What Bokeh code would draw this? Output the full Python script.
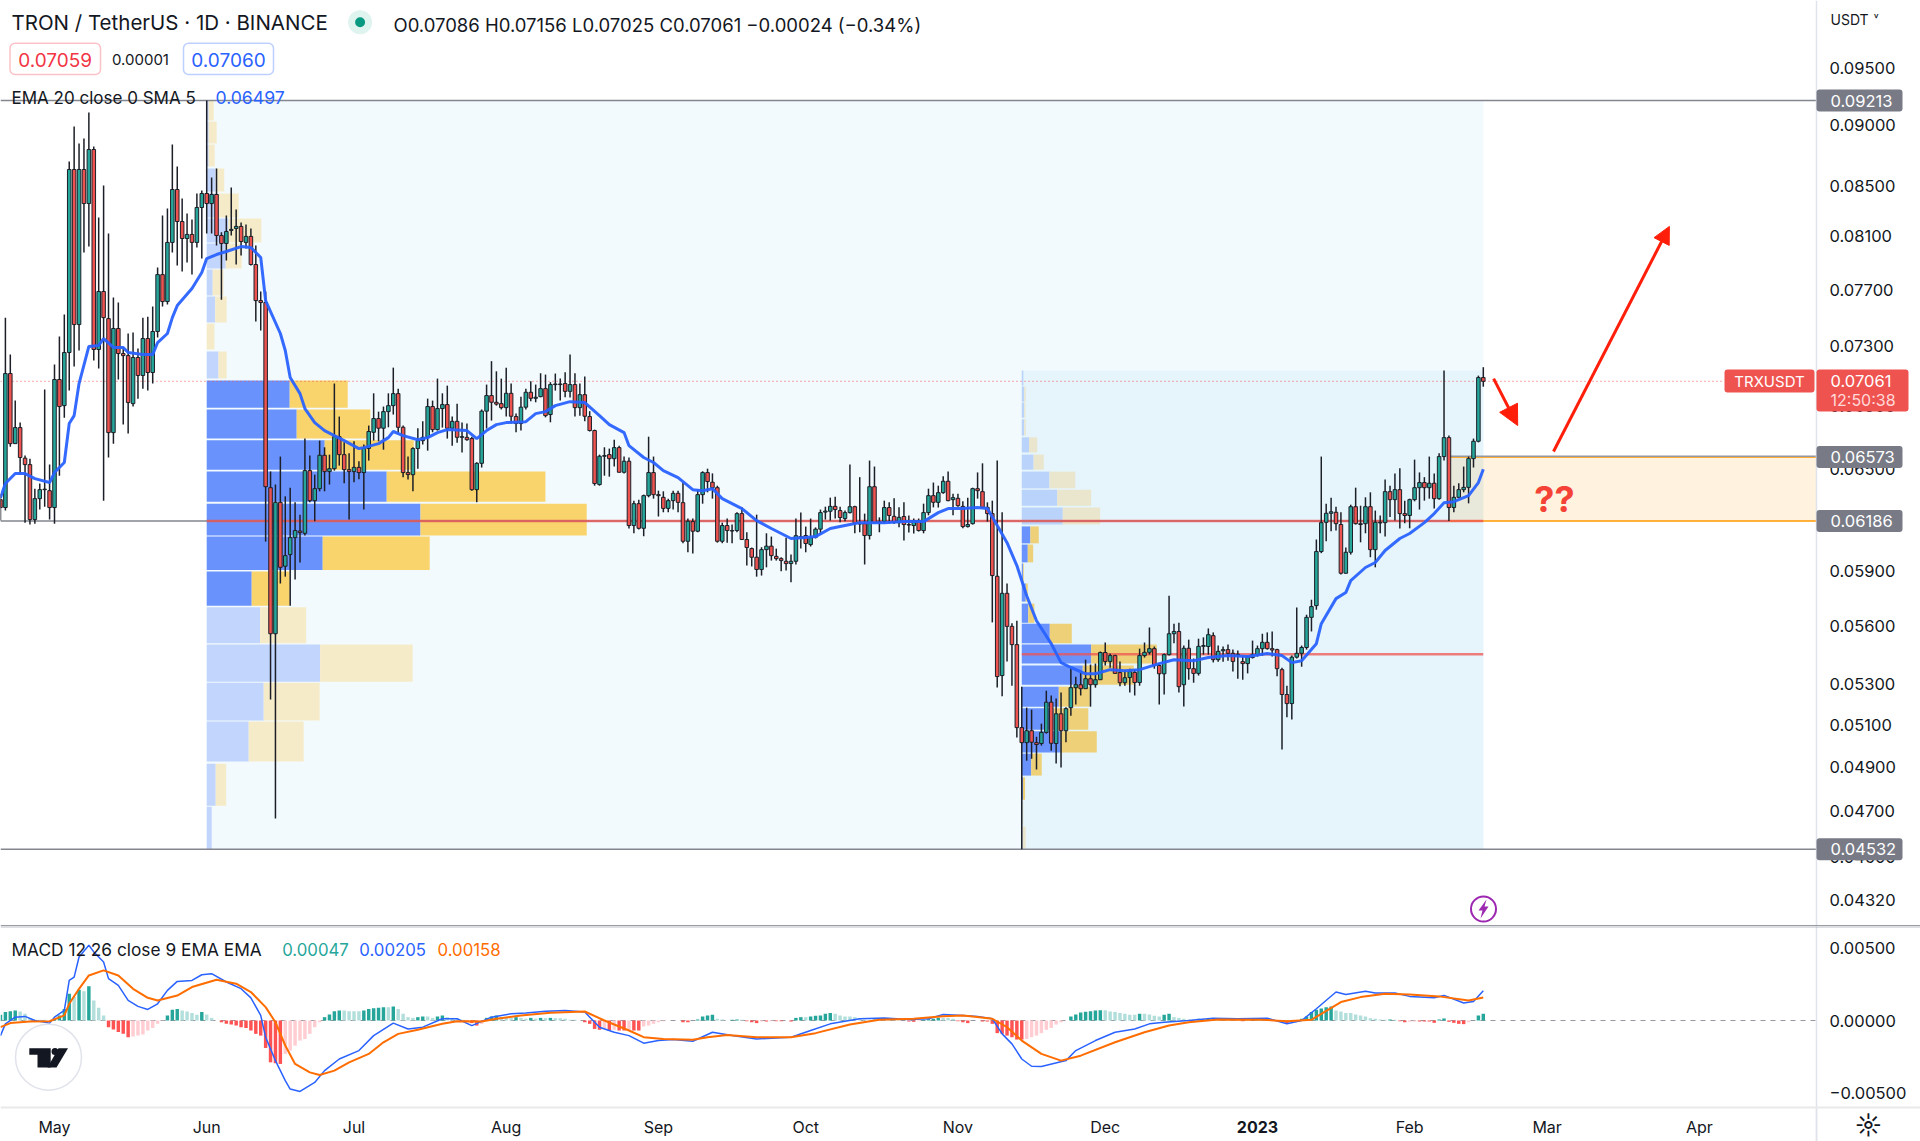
import math
from bokeh.plotting import figure
from bokeh.layouts import column
from bokeh.models import (Range1d, FixedTicker, PrintfTickFormatter, Label, BoxAnnotation,
                          Arrow, NormalHead)
from bokeh.embed import file_html
from bokeh.resources import INLINE
from bokeh.core.properties import value

# prices in 1e-5 USDT, one candle per day, first candle is 11 days before 1 May 2022
first_day = -11
opens = [
6312,6265,7113,6656,6758,6565,6525,6194,6318,6372,
6366,6265,7073,6900,7256,8630,7451,8630,8356,8795,
7277,7688,7493,6726,7423,7249,7235,6913,7222,7100,
7353,7120,7402,7812,7615,8054,8468,8215,8084,8115,
8054,8325,8436,8356,8428,8107,8046,8146,8161,8177,
8054,8100,7887,7622,7608,6384,5559,6296,5926,5992,
6089,6127,6114,6488,6306,6378,6583,6482,6500,6700,
6587,6494,6482,6508,6476,6626,6728,6816,6754,6861,
6900,6979,6760,6476,6463,6625,6675,6696,6894,6745,
6881,6907,6754,6798,6696,6696,6688,6372,6533,6864,
6966,6922,6913,6887,6981,6829,6784,6890,6988,6948,
6959,7012,6842,7039,7043,7046,6994,7039,6887,6972,
6829,6739,6403,6577,6587,6562,6631,6478,6546,6159,
6288,6143,6336,6476,6342,6326,6260,6306,6350,6294,
6068,6182,6126,6342,6476,6417,6384,6068,6159,6130,
6130,6229,6078,6026,5977,5908,6020,6040,5982,5969,
5954,5941,5954,6095,6101,6049,6091,6138,6238,6243,
6272,6247,6200,6235,6270,6172,6170,6101,6390,6176,
6184,6265,6213,6176,6212,6165,6159,6188,6130,6235,
6336,6296,6354,6423,6312,6320,6272,6153,6170,6378,
6360,6266,6229,5870,5343,5776,5598,5502,5086,5014,
5071,5014,5010,5063,5210,5010,5153,5071,5183,5282,
5297,5277,5327,5297,5322,5461,5415,5445,5358,5307,
5333,5359,5308,5445,5462,5481,5394,5352,5450,5559,
5571,5297,5483,5378,5354,5493,5492,5549,5424,5470,
5476,5457,5448,5414,5404,5435,5450,5481,5514,5481,
5476,5373,5248,5203,5437,5457,5487,5646,5709,6009,
6178,6231,6237,6165,5887,6005,6270,6170,6170,6270,
6020,6178,6176,6360,6312,6372,6229,6218,6312,6384,
6415,6384,6411,6318,6575,6694,6265,6326,6372,6386,
6562,6671,7086]
highs = [
6348,7500,7242,6933,6790,6581,6562,6378,6409,7006,
6525,7174,7367,7522,8696,8989,8845,8887,9109,8820,
8246,8500,8123,7644,7608,7291,7388,7395,7284,7500,
7507,7579,7865,8262,8317,8837,8654,8396,8278,8231,
8436,8460,9213,8565,8638,8131,8262,8484,8309,8208,
8192,8161,8030,7688,7688,6483,6403,6575,6332,6384,
6296,6223,6688,6581,6463,6675,6633,6587,7046,6829,
6664,6595,6671,6546,6650,6771,6981,6861,6894,6981,
7153,7012,6771,6575,6633,6754,6799,6946,6933,7079,
6981,7032,6829,6913,6790,6784,6700,6540,6875,7039,
7197,7128,7079,7153,7046,6849,6959,7012,7061,7039,
7115,7106,7055,7113,7079,7122,7242,7115,7046,7093,
6864,6745,6587,6633,6625,6681,6643,6575,6569,6306,
6312,6342,6700,6575,6366,6362,6318,6366,6366,6417,
6200,6200,6372,6484,6500,6471,6396,6176,6200,6165,
6237,6266,6120,6032,6223,6034,6114,6095,6026,5977,
6088,5992,6200,6235,6153,6200,6148,6253,6270,6324,
6330,6270,6247,6525,6276,6448,6229,6550,6513,6207,
6306,6296,6320,6266,6296,6218,6200,6200,6288,6378,
6415,6396,6453,6482,6348,6348,6302,6324,6384,6477,
6533,6296,6306,6550,6237,5830,5614,5628,5287,5183,
5173,5042,5105,5267,5243,5228,5258,5185,5383,5337,
5368,5424,5399,5404,5466,5513,5456,5450,5415,5368,
5378,5373,5481,5513,5592,5492,5404,5456,5763,5612,
5617,5497,5528,5430,5533,5540,5587,5566,5497,5492,
5502,5476,5471,5445,5445,5523,5497,5559,5566,5571,
5481,5383,5292,5445,5699,5497,5660,5741,6078,6575,
6288,6324,6270,6237,6032,6282,6384,6276,6326,6356,
6247,6218,6433,6396,6471,6503,6306,6318,6556,6477,
6448,6575,6470,6595,7133,6707,6396,6411,6513,6575,
6688,7099,7156]
lows = [
6188,6247,6637,6656,6470,6176,6165,6170,6253,6270,
6194,6170,6457,6822,6999,7160,7270,7977,8022,7201,
7147,6306,6569,6656,7073,6777,6720,6894,6946,7012,
6999,7046,7360,7579,7593,7977,7880,7835,7902,7812,
8015,7932,8123,8123,8030,7629,7917,8107,7887,7955,
8007,7880,7472,7409,6066,5223,4666,5830,5868,5709,
5852,5947,6101,6296,6184,6362,6362,6403,6488,6519,
6411,6194,6417,6435,6253,6550,6675,6671,6618,6760,
6842,6722,6448,6433,6362,6500,6650,6612,6728,6739,
6758,6688,6643,6662,6601,6675,6366,6296,6507,6752,
6803,6900,6875,6829,6784,6728,6739,6875,6928,6922,
6955,6824,6792,6999,6933,6955,6953,6829,6835,6799,
6733,6396,6396,6457,6451,6513,6476,6470,6142,6114,
6136,6097,6326,6318,6212,6237,6237,6253,6237,6057,
6005,5998,6120,6288,6356,6318,6060,6057,6060,6057,
6120,6075,5930,5925,5868,5874,5920,5958,5958,5898,
5902,5837,5936,6026,6005,6038,6084,6107,6194,6188,
6200,6178,6184,6229,6114,6120,5936,6078,6172,6120,
6170,6172,6170,6149,6072,6118,6113,6124,6114,6219,
6266,6265,6348,6302,6219,6270,6143,6148,6165,6318,
6259,6182,5619,5283,5239,5415,5292,5038,4532,4929,
4938,4888,5000,5057,4976,4916,4897,5016,5144,5198,
5243,5277,5188,5282,5322,5394,5383,5352,5289,5292,
5258,5243,5292,5435,5450,5378,5198,5248,5445,5509,
5258,5189,5322,5307,5343,5450,5450,5410,5414,5414,
5419,5364,5327,5322,5354,5430,5440,5445,5476,5440,
5339,4981,5136,5125,5430,5388,5476,5571,5687,6000,
6068,6126,6130,5880,5885,5992,6165,6062,6114,5977,
5920,6114,6095,6209,6188,6142,6172,6143,6302,6253,
6306,6318,6259,6312,6550,6186,6237,6324,6356,6290,
6507,6664,7025]
closes = [
6265,7113,6656,6758,6569,6525,6194,6318,6372,6375,
6265,7073,6894,7256,8630,7451,8630,8356,8795,7277,
7688,7500,6726,7423,7249,7235,6920,7222,7100,7353,
7120,7402,7812,7615,8054,8468,8215,8084,8115,8054,
8325,8436,8356,8428,8107,8046,8138,8154,8177,8061,
8100,7887,7622,7608,6390,5559,6296,5920,5986,6089,
6130,6118,6488,6306,6378,6583,6482,6500,6700,6587,
6494,6482,6508,6476,6626,6733,6816,6754,6861,6900,
6979,6760,6476,6464,6625,6675,6696,6894,6745,6881,
6907,6754,6798,6696,6700,6681,6372,6533,6864,6966,
6922,6910,6887,6981,6831,6784,6890,6988,6948,6955,
7012,6835,7039,7043,7039,6994,7039,6887,6972,6831,
6739,6409,6577,6581,6562,6631,6478,6546,6159,6288,
6143,6336,6476,6342,6336,6260,6306,6350,6296,6068,
6184,6126,6342,6476,6421,6384,6068,6159,6130,6127,
6229,6078,6032,5977,5908,6020,6040,5986,5969,5958,
5941,5954,6100,6088,6055,6089,6138,6235,6244,6272,
6253,6206,6235,6270,6172,6168,6101,6390,6176,6180,
6265,6218,6176,6207,6165,6162,6188,6130,6235,6336,
6296,6354,6423,6306,6324,6276,6153,6165,6378,6366,
6266,6229,5874,5338,5776,5598,5502,5086,5014,5071,
5016,5005,5063,5210,5011,5153,5071,5178,5282,5297,
5277,5327,5297,5322,5461,5415,5445,5354,5307,5332,
5363,5308,5445,5462,5481,5394,5352,5450,5559,5571,
5287,5483,5378,5354,5493,5497,5554,5424,5467,5476,
5457,5415,5452,5404,5440,5450,5481,5514,5481,5474,
5378,5248,5203,5437,5457,5487,5646,5704,6009,6176,
6231,6240,6170,5887,6005,6270,6170,6165,6270,6020,
6178,6174,6360,6312,6372,6229,6218,6312,6384,6415,
6384,6411,6318,6575,6694,6265,6326,6372,6386,6562,
6671,7086,7061]

ema_days = [-11,-10,-8,-6,-4,-1,0,2,3,4,5,7,9,10,12,14,15,18,20,21,23,24,25,28,30,31,33,35,38,40,42,43,46,47,48,50,51,53,55,57,59,62,63,66,68,69,71,74,76,78,80,84,86,88,90,92,96,98,100,102,105,108,111,113,116,117,120,122,124,127,130,132,134,136,140,143,146,150,153,155,158,161,164,169,173,177,180,182,185,188,190,192,194,196,198,200,203,205,207,210,212,215,218,221,225,228,232,235,239,243,247,250,252,254,257,258,261,263,264,267,269,271,274,276,279,281,283,285,288,290,291]
ema_vals = [6324,6409,6470,6470,6439,6415,6476,6538,6784,6835,7046,7298,7305,7353,7291,7291,7256,7242,7242,7325,7388,7500,7586,7710,7827,7932,7962,7985,8022,8015,7940,7622,7388,7270,7086,6979,6881,6790,6739,6707,6675,6625,6631,6656,6694,6733,6707,6681,6694,6726,6745,6739,6688,6739,6777,6790,6796,6848,6861,6900,6926,6920,6835,6777,6726,6643,6569,6538,6488,6445,6372,6366,6378,6318,6259,6188,6142,6084,6089,6095,6142,6159,6176,6176,6182,6182,6235,6259,6259,6265,6259,6159,6060,5930,5763,5628,5507,5409,5384,5352,5352,5373,5368,5373,5404,5424,5419,5435,5445,5440,5456,5445,5409,5419,5507,5612,5747,5780,5846,5919,5947,6015,6084,6113,6176,6229,6294,6300,6336,6415,6497]

# MACD values in 1e-5 USDT
hist = [
40,58,64,69,62,46,18,7,5,5,
0,11,35,80,184,161,212,202,235,138,
87,35,-46,-62,-80,-92,-115,-110,-104,-97,
-69,-51,-23,-2,35,74,80,69,62,51,
39,58,41,18,0,-12,-23,-28,-35,-46,
-51,-69,-92,-104,-189,-288,-294,-299,-230,-207,
-173,-138,-127,-92,-46,-12,23,41,64,69,
69,64,64,64,69,80,85,87,92,92,
97,80,46,23,18,23,28,28,18,28,
35,23,18,12,5,-5,-18,-35,-23,18,
28,35,23,18,18,23,18,12,18,12,
18,16,18,16,16,12,5,5,0,-12,
-23,-58,-64,-58,-69,-64,-69,-69,-64,-69,
-69,-41,-35,-23,-12,-5,0,0,0,-12,
-12,0,7,28,35,39,12,7,0,5,
7,5,-5,-12,-18,-7,-7,-5,-5,-5,
0,-7,18,23,23,28,32,35,46,51,
46,35,28,28,23,12,5,5,7,7,
7,5,5,5,0,-7,-9,-5,5,9,
12,18,18,18,12,-5,-12,-18,0,0,
-7,-7,-23,-87,-92,-104,-115,-131,-131,-127,
-115,-104,-87,-64,-51,-28,-12,0,28,41,
55,60,64,69,71,71,62,58,51,46,
39,39,46,46,41,32,28,39,46,23,
18,12,7,7,12,9,12,12,9,7,
7,2,-2,-5,2,7,12,7,2,2,
-5,-12,-18,-14,-5,12,28,58,74,83,
92,97,69,62,51,51,41,35,28,16,
12,7,5,7,5,-5,-12,-9,-7,-7,
-7,-7,-16,7,14,-9,-16,-23,-25,-12,
0,35,47]
macd_days = [-11,-10,-8,-6,-4,-1,0,2,3,4,5,7,8,10,11,13,15,17,19,21,23,25,28,30,32,35,38,40,42,43,45,47,48,50,53,55,58,62,65,69,72,75,79,82,85,89,93,96,100,104,108,111,114,117,120,123,126,130,134,138,143,150,154,158,164,169,174,178,181,185,188,191,193,195,197,199,201,206,208,212,216,220,223,226,231,236,241,247,251,254,257,261,263,267,269,273,276,281,283,287,289,291]
macd_vals = [-104,-23,23,28,0,-18,23,69,276,299,437,518,472,403,288,242,138,97,76,115,207,269,276,315,322,265,219,156,35,-115,-276,-414,-472,-488,-426,-345,-265,-207,-104,-18,-58,-46,12,12,-35,23,46,51,64,69,58,-46,-81,-104,-156,-138,-131,-143,-81,-104,-127,-115,-69,-23,12,18,7,12,41,35,28,12,-92,-161,-265,-315,-317,-276,-207,-138,-81,-58,-23,-12,0,16,12,16,-23,0,81,196,179,202,189,189,166,156,173,120,131,205]
signal_days = [-11,-9,-5,-1,2,3,5,7,10,13,16,19,21,25,28,33,37,40,43,45,47,49,52,54,57,60,64,67,70,74,79,82,87,90,95,101,108,112,117,120,124,130,133,137,143,150,155,162,168,175,181,185,187,191,194,197,201,205,209,216,222,227,231,237,246,251,256,258,262,266,271,276,282,288,291]
signal_vals = [-46,-18,-7,-5,35,115,218,310,345,310,218,156,138,172,230,281,253,196,92,-12,-172,-299,-357,-375,-345,-288,-230,-150,-92,-64,-23,-5,-7,12,35,53,62,0,-69,-115,-127,-133,-115,-99,-115,-115,-87,-28,5,12,30,35,28,12,-46,-138,-230,-276,-242,-150,-81,-35,-12,7,5,-5,5,46,127,161,184,179,166,138,158]

# fixed-range volume profiles: bin price edges (1e-5) and buy / total volume
vp1_top = [9213,9031,8837,8638,8436,8239,8046,7850,7651,7458,7263,7066,6875,6677,6482,6288,6095,5896,5700,5502,5307,5115,4915,4719]
vp1_bot = [9040,8845,8654,8452,8246,8054,7857,7658,7465,7277,7079,6887,6688,6494,6300,6101,5905,5709,5509,5312,5120,4925,4723,4532]
vp1_buy = [2,2,2,9,10.5,21.6,19,6,8.5,0,11.8,83,90,118,180,213.8,116,45,53.4,113.4,57,42,9,5]
vp1_all = [7,10,8,17.5,32,54.6,35,16.7,20,7.7,20,141,163.6,207,338.7,380,223,83,99.5,206,113,97,19.5,5]
vp1_value_area = [False]*11 + [True]*7 + [False]*6
vp2_top = [7133,7026,6920,6811,6696,6587,6482,6372,6265,6154,6049,5941,5830,5720,5612,5502,5394,5287,5180,5068,4962,4852,4743,4631]
vp2_bot = [7032,6926,6822,6707,6601,6494,6380,6276,6165,6056,5948,5835,5731,5617,5509,5404,5297,5188,5076,4967,4860,4750,4640,4535]
vp2_buy = [1.6,2.4,2.4,2.4,7.3,11.8,27.7,35.5,41,8.6,6,1.2,4,6.5,28,69.4,61,37,32,39,9.4,1.2,0.8,0.8]
vp2_all = [1.6,4,3.7,4,15.5,22,53.5,69.4,78.4,17,11.4,2,6,12.6,50,135,112,68,66.5,75,20,3.3,1.6,4]
vp2_value_area = [False]*9 + [True]*13 + [False]*2
vp1_start, vp2_start, last_day = 31, 197, 291
vp1_poc, vp2_poc = 6186, 5452
box_start, box_high, box_low = 284, 6573, 6186
range_hi, range_lo, range2_hi = 9213, 4532, 7133

month_days = [0,31,61,92,123,153,184,214,245,276,304,335]
month_labels = ["May","Jun","Jul","Aug","Sep","Oct","Nov","Dec","","Feb","Mar","Apr"]
price_ticks = [95000,90000,85000,81000,77000,73000,69000,65000,62000,59000,56000,53000,51000,49000,47000,45000,43200]
tag_levels = ["0.09213","0.06573","0.06186","0.04532"]

FONT = "Inter"
INK = "#131722"
PX_PER_DAY = 4.91
X0 = 54.0
PX_PER_LOG = 1055.5
MACD_PX = 14530.0
WIDTH, H1, H2 = 1920, 926, 215
TEAL, RED = "#26a69a", "#ef5350"

# Conversions used only for decorations placed on the page, not for chart values
def dx(px): return (px - X0) / PX_PER_DAY
def py(y): return 0.09213 * math.exp(-(y - 100) / PX_PER_LOG)
def my(y): return (1020 - y) / MACD_PX

AXIS_X = dx(1816)
xr = Range1d(dx(0), dx(WIDTH))
p1 = figure(width=WIDTH, height=H1, output_backend="svg", toolbar_location=None, x_range=xr,
            y_axis_type="log", y_range=Range1d(py(926), py(0)), y_axis_location="right",
            min_border_left=0, min_border_top=0, min_border_bottom=0, min_border_right=0,
            background_fill_color="white", border_fill_color="white", outline_line_color=None)
p1.grid.visible = False
p1.xaxis.visible = False
yax = p1.yaxis[0]
yax.fixed_location = AXIS_X
yax.ticker = FixedTicker(ticks=[t * 1e-6 for t in price_ticks])
yax.formatter = PrintfTickFormatter(format="%.5f")
yax.major_tick_line_color = None
yax.minor_tick_line_color = None
yax.axis_line_color = "#e0e3eb"
yax.axis_line_width = 1.5
yax.major_label_text_font = FONT
yax.major_label_text_font_size = "16.5px"
yax.major_label_text_color = INK
yax.major_label_standoff = 7

e5 = lambda seq: [v * 1e-5 for v in seq]

# range backgrounds
p1.quad(left=[vp1_start], right=[last_day], top=[range_hi * 1e-5], bottom=[range_lo * 1e-5],
        fill_color="#f2fafe", line_color=None)
p1.quad(left=[vp2_start], right=[last_day], top=[range2_hi * 1e-5], bottom=[range_lo * 1e-5],
        fill_color="#e6f5fc", line_color=None)

def profile(start, top, bot, buy, total, area, cb, cs, pb, ps):
    k = 1 / PX_PER_DAY
    p1.quad(left=[start] * len(top), right=[start + b * k for b in buy], top=e5(top), bottom=e5(bot),
            fill_color=[cb if a else pb for a in area], line_color=None)
    p1.quad(left=[start + b * k for b in buy], right=[start + t * k for t in total], top=e5(top), bottom=e5(bot),
            fill_color=[cs if a else ps for a in area], line_color=None)

profile(vp1_start, vp1_top, vp1_bot, vp1_buy, vp1_all, vp1_value_area, "#6a92fd", "#f9d36c", "#c2d5fc", "#f6ebc9")
profile(vp2_start, vp2_top, vp2_bot, vp2_buy, vp2_all, vp2_value_area, "#6a92fd", "#edd077", "#b9d3fb", "#e9e6cd")

# orange zone
p1.quad(left=[box_start], right=[AXIS_X], top=[box_high * 1e-5], bottom=[box_low * 1e-5],
        fill_color="#ff9800", fill_alpha=0.13, line_color=None)
p1.segment([box_start], [box_low * 1e-5], [AXIS_X], [box_low * 1e-5], line_color="#ff9800", line_width=1.5)
p1.segment([box_start], [box_high * 1e-5], [AXIS_X], [box_high * 1e-5], line_color="#ff9800", line_width=1.5)
p1.segment([box_start], [box_high * 1e-5 * 1.0006], [AXIS_X], [box_high * 1e-5 * 1.0006], line_color="#9598a1", line_width=1.5)

# level lines
for lvl in (range_hi, range_lo):
    p1.segment([dx(0)], [lvl * 1e-5], [AXIS_X], [lvl * 1e-5], line_color="#83868f", line_width=1.5)
p1.segment([dx(0)], [box_low * 1e-5], [box_start], [box_low * 1e-5], line_color="#83868f", line_width=1.5)
p1.segment([vp1_start], [vp1_poc * 1e-5], [last_day], [vp1_poc * 1e-5], line_color="#ef5350", line_width=2.5, line_alpha=0.75)
p1.segment([vp2_start], [vp2_poc * 1e-5], [last_day], [vp2_poc * 1e-5], line_color="#ef5350", line_width=2.5, line_alpha=0.75)
p1.segment([dx(0)], [closes[-1] * 1e-5], [dx(1724)], [closes[-1] * 1e-5], line_color=RED, line_width=1, line_dash="1 3")

# candles
days = list(range(first_day, first_day + len(closes)))
colors = [TEAL if c >= o else RED for o, c in zip(opens, closes)]
p1.segment(days, e5(highs), days, e5(lows), line_color="#1c1f27", line_width=1.5)
p1.vbar(x=days, width=0.72, top=[max(o, c) * 1e-5 for o, c in zip(opens, closes)],
        bottom=[min(o, c) * 1e-5 for o, c in zip(opens, closes)], fill_color=colors,
        line_color="#1c1f27", line_width=1)

# EMA
p1.line(ema_days, e5(ema_vals), line_color="#2962ff", line_width=3, line_alpha=0.95)

# drawings
for (s, e, hs) in [((293.1, 7079), (298.0, 6771), 20), ((305.3, 6607), (328.9, 8177), 17)]:
    p1.add_layout(Arrow(end=NormalHead(size=hs, fill_color="#ff1e0a", line_color="#ff1e0a"),
                        x_start=s[0], y_start=s[1] * 1e-5, x_end=e[0], y_end=e[1] * 1e-5,
                        line_color="#ff1e0a", line_width=3))
p1.text(x=[dx(1554)], y=[py(498)], text=["??"], text_color="#f44336", text_font=value(FONT),
        text_font_size="36px", text_font_style="bold", text_align="center", text_baseline="middle")

# decorative marks
p1.scatter([dx(359.6)], [py(21.7)], size=24, fill_color="#dff3ef", line_color=None)
p1.scatter([dx(359.6)], [py(21.7)], size=10, fill_color="#089981", line_color=None)
p1.scatter([dx(1483)], [py(908.5)], size=25, fill_color="white", line_color="#9c27b0", line_width=2)
p1.patch([dx(v) for v in (1486, 1478, 1482, 1480, 1488, 1484)],
         [py(v) for v in (899, 910, 910, 918, 906, 906)], fill_color="#9c27b0", line_color=None)

def lab(fig, x, y, text, size=16, color=INK, align="left", style="normal", **kw):
    base = H1 if fig is p2 else 0
    fig.add_layout(Label(x=x, y=y - base, x_units="canvas", y_units="canvas", text=text, text_font=FONT,
                         text_font_size=f"{size}px", text_color=color, text_align=align,
                         text_baseline="middle", text_font_style=style, **kw))

def box(fig, l, r, t, b, fill, line=None, radius=0):
    base = H1 if fig is p2 else 0
    fig.add_layout(BoxAnnotation(left=l, right=r, top=t - base, bottom=b - base,
                                 left_units="canvas", right_units="canvas", top_units="canvas", bottom_units="canvas",
                                 fill_color=fill, fill_alpha=1, line_color=line, line_width=1.5, border_radius=radius))

# MACD pane
p2 = figure(width=WIDTH, height=H2, output_backend="svg", toolbar_location=None, x_range=xr,
            y_range=Range1d(my(1141), my(926)), y_axis_location="right",
            min_border_left=0, min_border_top=0, min_border_bottom=0, min_border_right=0,
            background_fill_color="white", border_fill_color="white", outline_line_color=None)
p2.grid.visible = False
ax = p2.yaxis[0]
ax.fixed_location = AXIS_X
ax.ticker = FixedTicker(ticks=[0.005, 0.0, -0.005])
ax.major_label_overrides = {0.005: "0.00500", 0.0: "0.00000", -0.005: "\u22120.00500"}
ax.major_tick_line_color = None
ax.minor_tick_line_color = None
ax.axis_line_color = "#e0e3eb"
ax.axis_line_width = 1.5
ax.major_label_text_font = FONT
ax.major_label_text_font_size = "16.5px"
ax.major_label_text_color = INK
ax.major_label_standoff = 7
bx = p2.xaxis[0]
bx.fixed_location = my(1107)
bx.ticker = FixedTicker(ticks=month_days)
bx.major_label_overrides = dict(zip(month_days, month_labels))
bx.major_tick_line_color = None
bx.minor_tick_line_color = None
bx.axis_line_color = None
bx.major_label_text_font = FONT
bx.major_label_text_font_size = "16px"
bx.major_label_text_color = INK
bx.major_label_standoff = 3

p2.segment([dx(0)], [0], [AXIS_X], [0], line_color="#9598a1", line_width=1, line_dash="5 5")
hcolors = []
for i, h in enumerate(hist):
    prev = hist[i - 1] if i else 0
    if h >= 0:
        hcolors.append("#26a69a" if h > prev else "#b2dfdb")
    else:
        hcolors.append("#ffcdd2" if h > prev else "#ff5252")
p2.vbar(x=days, width=0.7, top=[max(h, 0) * 1e-5 for h in hist], bottom=[min(h, 0) * 1e-5 for h in hist],
        fill_color=hcolors, line_color=None)
p2.line(macd_days, e5(macd_vals), line_color="#2962ff", line_width=1.5)
p2.line(signal_days, e5(signal_vals), line_color="#ff6d00", line_width=2)

# watermark
p2.scatter([dx(48)], [my(1056.7)], size=66, fill_color="white", fill_alpha=0.9, line_color="#e0e3eb", line_width=1.5)
p2.patch([dx(v) for v in (28.8, 50.2, 50.2, 37, 37, 28.8)],
         [my(v) for v in (1047.7, 1047.7, 1067, 1067, 1054.3, 1054.3)], fill_color=INK, line_color=None)
p2.scatter([dx(54.5)], [my(1051)], size=7, fill_color=INK, line_color=None)
p2.patch([dx(v) for v in (58, 67.5, 56, 47)], [my(v) for v in (1047.7, 1047.7, 1067, 1067)], fill_color=INK, line_color=None)

# texts, top legend
lab(p1, 11, 22, "TRON / TetherUS \u00b7 1D \u00b7 BINANCE", size=20.5)
lab(p1, 393, 24, "O0.07086 H0.07156 L0.07025 C0.07061 \u22120.00024 (\u22120.34%)", size=18.5)
box(p1, 9.5, 100, 42.7, 74, "white", "#f23645", 5)
lab(p1, 54.7, 59, "0.07059", size=19, color="#f23645", align="center")
lab(p1, 111.5, 59, "0.00001", size=15)
box(p1, 183, 273, 42.7, 74, "white", "#2962ff", 5)
lab(p1, 228, 59, "0.07060", size=19, color="#2962ff", align="center")
lab(p1, 11, 97, "EMA 20 close 0 SMA 5", size=17)
lab(p1, 215, 97, "0.06497", size=17.6, color="#2962ff")
lab(p1, 1830, 19, "USDT", size=14)
lab(p1, 1873, 17, "\u02c5", size=12)

# axis tags
for level in tag_levels:
    y = 100 + PX_PER_LOG * math.log(0.09213 / float(level))
    box(p1, 1816, 1902, y - 11, y + 11, "#787b86", None, 3)
    lab(p1, 1830, y, level, size=16.5, color="white")
box(p1, 1724, 1814, 369, 392, "#ef5350", None, 3)
lab(p1, 1769, 380.7, "TRXUSDT", size=15, color="white", align="center")
box(p1, 1816, 1908, 369, 411, "#ef5350", None, 3)
lab(p1, 1830, 380.7, "0.07061", size=16.5, color="white")
lab(p1, 1830, 399.5, "12:50:38", size=16, color="#ffd9d8")

# pane separators and the rule of the price axis under the panes
box(p1, 0, 1920, 924.7, 926, "#787b86")
box(p2, 0, 1920, 926, 926.7, "#787b86")
box(p2, 0, 1920, 1106, 1108, "#e9e9ec")
box(p2, 1815.3, 1816.8, 1108, 1141, "#e0e3eb")

# MACD legend
lab(p2, 11, 949.3, "MACD 12 26 close 9 EMA EMA", size=17.3)
lab(p2, 281.7, 949.3, "0.00047", size=16.8, color="#26a69a")
lab(p2, 358.8, 949.3, "0.00205", size=16.8, color="#2962ff")
lab(p2, 437, 949.3, "0.00158", size=16.8, color="#ff6d00")
lab(p2, X0 + 245 * PX_PER_DAY, 1126.7, "2023", size=16, align="center", style="bold")
lab(p2, 1868, 1125, "\u263c", size=26, align="center")

out = column(p1, p2, spacing=0)
open("out.html", "w").write(file_html(out, INLINE))
